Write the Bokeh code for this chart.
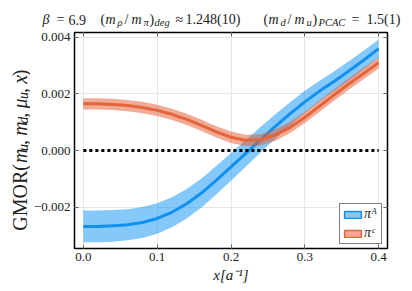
import math
from bokeh.plotting import figure
from bokeh.layouts import column, row
from bokeh.core.properties import value
from bokeh.models import (Range1d, FixedTicker, LinearAxis, CustomJSTickFormatter,
                          Legend, LegendItem, ColumnDataSource)
from bokeh.embed import file_html
from bokeh.resources import INLINE

# ---------------- data ----------------
x_vals = [0.00, 0.02, 0.04, 0.06, 0.08, 0.10, 0.12, 0.14, 0.16, 0.18, 0.20,
          0.22, 0.24, 0.26, 0.28, 0.30, 0.32, 0.34, 0.36, 0.38, 0.40]
gmor_A = [-0.00268, -0.00268, -0.00266, -0.00262, -0.00254, -0.00240, -0.00218,
          -0.00188, -0.00150, -0.00105, -0.00058, -0.00010, 0.00038, 0.00085,
          0.00130, 0.00172, 0.00210, 0.00245, 0.00282, 0.00320, 0.00360]
err_A = [0.00056, 0.00056, 0.00056, 0.00055, 0.00055, 0.00054, 0.00053, 0.00052,
         0.00051, 0.00050, 0.00049, 0.00047, 0.00045, 0.00043, 0.00041, 0.00039,
         0.00037, 0.00035, 0.00034, 0.00033, 0.00032]
gmor_C = [0.00165, 0.00165, 0.00163, 0.00159, 0.00152, 0.00142, 0.00128, 0.00110,
          0.00089, 0.00066, 0.00047, 0.00036, 0.00038, 0.00055, 0.00082, 0.00117,
          0.00157, 0.00197, 0.00236, 0.00273, 0.00310]
err_C = [0.00020] * 21
x_ticks = [0.0, 0.1, 0.2, 0.3, 0.4]
y_ticks = [-0.002, 0.0, 0.002, 0.004]
series_labels = ["\u03c0\u1d2c", "\u03c0\u1d9c"]   # pi^A, pi^C

# ---------------- style ----------------
FONT = "Liberation Serif"
TXT = "#222222"
BLUE_LINE, BLUE_BAND = "#1190ee", "#0a93f5"
ORNG_LINE, ORNG_BAND = "#e2653c", "#e5582c"

W, H = 408, 287          # whole page area
TH = 30                   # height of the title strip
YW = 30                   # width of the y-label strip
FL, FR, FT, FB = 71, 387, 32, 248   # frame box in page pixels

# ---------------- main plot ----------------
p = figure(width=W - YW, height=H - TH, output_backend="svg", toolbar_location=None,
           x_range=Range1d(-0.012, 0.412), y_range=Range1d(-0.00346, 0.00417),
           min_border_left=FL - YW, min_border_right=W - FR, min_border_top=FT - TH,
           min_border_bottom=H - FB)
p.background_fill_color = "white"
p.border_fill_color = "white"
p.outline_line_color = "black"
p.outline_line_width = 1.5
p.outline_line_alpha = 1.0
p.xgrid.grid_line_color = "#e6e6e6"
p.ygrid.grid_line_color = "#e6e6e6"
p.xgrid.ticker = FixedTicker(ticks=x_ticks)
p.ygrid.ticker = FixedTicker(ticks=y_ticks)

yfmt = CustomJSTickFormatter(code="""
    if (Math.abs(tick) < 1e-12) { return '0.000'; }
    return tick.toFixed(3).replace('-', '\u2212');
""")
xfmt = CustomJSTickFormatter(code="return tick.toFixed(1);")
blank = CustomJSTickFormatter(code="return '';")

def style_axis(ax):
    ax.axis_line_color = None
    ax.major_tick_in = 4
    ax.major_tick_out = 0
    ax.minor_tick_in = 0
    ax.minor_tick_out = 0
    ax.major_tick_line_color = "#666666"
    ax.major_label_text_font = FONT
    ax.major_label_text_font_size = "13px"
    ax.major_label_text_color = TXT
    ax.major_label_standoff = 4

for ax in p.xaxis:
    style_axis(ax)
    ax.ticker = FixedTicker(ticks=x_ticks)
    ax.formatter = xfmt
    ax.axis_label = "x[a\u207b\u00b9]"
    ax.axis_label_text_font = FONT
    ax.axis_label_text_font_style = "italic"
    ax.axis_label_text_font_size = "15px"
    ax.axis_label_text_color = TXT
    ax.axis_label_standoff = 3
for ax in p.yaxis:
    style_axis(ax)
    ax.ticker = FixedTicker(ticks=y_ticks)
    ax.formatter = yfmt

right_ax = LinearAxis(ticker=FixedTicker(ticks=y_ticks), formatter=blank)
top_ax = LinearAxis(ticker=FixedTicker(ticks=x_ticks), formatter=blank)
for ax in (right_ax, top_ax):
    style_axis(ax)
    ax.major_label_standoff = 0
    ax.major_label_text_font_size = "1px"
p.add_layout(right_ax, "right")
p.add_layout(top_ax, "above")

srcA = ColumnDataSource(dict(x=x_vals, y=gmor_A,
                             lo=[v - e for v, e in zip(gmor_A, err_A)],
                             hi=[v + e for v, e in zip(gmor_A, err_A)]))
srcC = ColumnDataSource(dict(x=x_vals, y=gmor_C,
                             lo=[v - e for v, e in zip(gmor_C, err_C)],
                             hi=[v + e for v, e in zip(gmor_C, err_C)]))

p.varea(x="x", y1="lo", y2="hi", source=srcA, fill_color=BLUE_BAND, fill_alpha=0.5)
p.line(x="x", y="y", source=srcA, line_color=BLUE_LINE, line_width=3)
p.varea(x="x", y1="lo", y2="hi", source=srcC, fill_color=ORNG_BAND, fill_alpha=0.5)
p.line(x="x", y="y", source=srcC, line_color=ORNG_LINE, line_width=3)
p.line(x=[x_vals[0], x_vals[-1]], y=[0, 0], line_color="black", line_width=3,
       line_dash="3 3")

# hidden renderers that only carry the legend swatch style
legA = p.rect(x=x_vals[:1], y=gmor_A[:1], width=0.01, height=0.0001,
              fill_color=BLUE_BAND, fill_alpha=0.5, line_color=BLUE_LINE,
              line_width=1.5, visible=False)
legC = p.rect(x=x_vals[:1], y=gmor_C[:1], width=0.01, height=0.0001,
              fill_color=ORNG_BAND, fill_alpha=0.5, line_color=ORNG_LINE,
              line_width=1.5, visible=False)
legend = Legend(items=[LegendItem(label=series_labels[0], renderers=[legA]),
                       LegendItem(label=series_labels[1], renderers=[legC])],
                location=(265, 4), border_line_color="black", border_line_width=1,
                padding=2, spacing=3, margin=0, glyph_width=21, glyph_height=9,
                label_height=15, label_width=15, label_standoff=1,
                label_text_font=FONT, label_text_font_size="14px",
                label_text_font_style="italic", label_text_color=TXT,
                background_fill_alpha=1.0)
p.add_layout(legend)

# ---------------- helper strips for title / rotated y label ----------------
def strip(width, height, xr, yr):
    f = figure(width=width, height=height, output_backend="svg",
               toolbar_location=None, title=None,
               x_axis_location=None, y_axis_location=None,
               x_range=Range1d(*xr), y_range=Range1d(*yr),
               min_border=0, min_border_left=0, min_border_right=0,
               min_border_top=0, min_border_bottom=0, outline_line_color=None)
    f.grid.visible = False
    f.background_fill_color = "white"
    f.border_fill_color = "white"
    return f

def put_text(f, parts, size, style, angle=0.0, align="left"):
    f.text(x=[q[0] for q in parts], y=[q[1] for q in parts],
           text=[q[2] for q in parts], text_font=value(FONT),
           text_font_size=f"{size}px", text_font_style=style, text_color=TXT,
           text_align=align, text_baseline="alphabetic", angle=angle)

# title strip: page pixel coordinates (y grows downwards)
t = strip(W, TH, (0, W), (TH, 0))
MB, SB = 19, 22
put_text(t, [(56, MB, "="), (68, MB, "6.9"), (100, MB, "("), (124, MB, "/"),
             (149, MB, ")"), (175, MB, "\u2248"), (185, MB, "1.248(10)"),
             (263, MB, "("), (287, MB, "/"), (312, MB, ")"), (351, MB, "="),
             (366, MB, "1.5(1)")], 14, "normal")
put_text(t, [(42, MB, "\u03b2"), (105, MB, "m"), (131, MB, "m"), (268, MB, "m"),
             (294, MB, "m")], 14, "italic")
put_text(t, [(117, SB, "\u03c1"), (143, SB, "\u03c0"), (154, SB, "deg"),
             (280, SB, "d"), (306, SB, "u"), (318, SB, "PCAC")], 10.5, "italic")

# y-label strip: page pixel coordinates
yl = strip(YW, H - TH, (0, YW), (H, TH))
XB, XS = 19.5, 22.5
put_text(yl, [(XB, 186.5, "GMOR(")], 20, "normal", math.pi / 2, align="right")
put_text(yl, [(XB, 163.9, ","), (XB, 131.5, ","), (XB, 102, ","), (XB, 82.1, ")")],
         20, "normal", math.pi / 2)
put_text(yl, [(XB, 185.3, "m"), (XB, 152.9, "m"), (XB, 120.5, "\u03bc"),
              (XB, 91, "x")], 20, "italic", math.pi / 2)
put_text(yl, [(XS, 170.9, "u"), (XS, 138.5, "d"), (XS, 109, "u")], 14,
         "italic", math.pi / 2)

layout = column(t, row(yl, p, spacing=0), spacing=0)
open("out.html", "w").write(file_html(layout, INLINE))
